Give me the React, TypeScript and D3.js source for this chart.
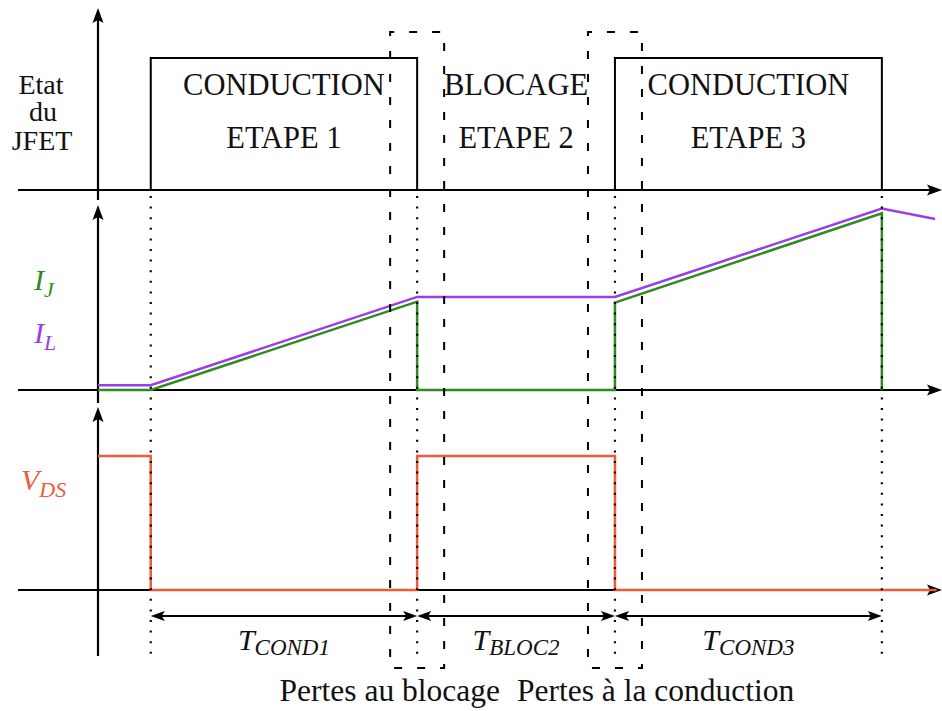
import React from "react";
import * as d3 from "d3";

// ---- data ----
const boundaries = [1, 6.05, 9.8, 14.86]; // switching instants
const phaseNames = ["CONDUCTION", "BLOCAGE", "CONDUCTION"];
const stepNames = ["ETAPE 1", "ETAPE 2", "ETAPE 3"];
const durationSubs = ["COND1", "BLOC2", "COND3"];
const lossLabels = ["Pertes au blocage", "Pertes à la conduction"];
const lossInstants = [6.05, 9.8];

const stateT = [1, 1, 6.05, 6.05, 9.8, 9.8, 14.86, 14.86];
const stateV = [0, 1, 1, 0, 0, 1, 1, 0];
const ijT = [0, 1, 6.05, 6.05, 9.8, 9.8, 14.86, 14.86];
const ijV = [0, 0, 0.93, 0, 0, 0.92, 1.86, 0];
const ilT = [0, 1, 6.05, 9.8, 14.86, 15.87];
const ilV = [0.05, 0.05, 0.98, 0.98, 1.91, 1.8];
const vdsT = [0, 1, 1, 6.05, 6.05, 9.8, 9.8, 15.9];
const vdsV = [1, 1, 0, 0, 1, 1, 0, 0];

const W = 942;
const H = 711;
const GREEN = "#2e8b22";
const PURPLE = "#9b3de8";
const ORANGE = "#ee5b35";
const FONT = "'Liberation Serif', 'Times New Roman', serif";

export default function App() {
  const x = d3.scaleLinear().domain([0, 16]).range([98, 942]);
  const yS = d3.scaleLinear().domain([0, 1]).range([190, 58]);
  const yC = d3.scaleLinear().domain([0, 2]).range([390, 200]);
  const yV = d3.scaleLinear().domain([0, 1]).range([590, 456]);

  const mk = (ts: number[], vs: number[], y: d3.ScaleLinear<number, number>) =>
    d3.line<number>().x((_, i) => x(ts[i])).y((v) => y(v))(vs) as string;

  const x0 = x(0);
  const axisStart = 18;
  const axisEnd = W;

  const hArrow = (y: number, key: string) => (
    <g key={key}>
      <line x1={axisStart} x2={axisEnd - 10} y1={y} y2={y} stroke="#000" strokeWidth={2.2} />
      <path d={`M${axisEnd},${y} L${axisEnd - 15},${y - 5.5} L${axisEnd - 12},${y} L${axisEnd - 15},${y + 5.5} Z`} fill="#000" />
    </g>
  );
  const vArrow = (yTop: number, yBot: number, key: string) => (
    <g key={key}>
      <line x1={x0} x2={x0} y1={yTop + 10} y2={yBot} stroke="#000" strokeWidth={2.2} />
      <path d={`M${x0},${yTop} L${x0 - 5.5},${yTop + 15} L${x0},${yTop + 12} L${x0 + 5.5},${yTop + 15} Z`} fill="#000" />
    </g>
  );
  const dimArrow = (xa: number, xb: number, y: number, key: string) => (
    <g key={key}>
      <line x1={xa + 8} x2={xb - 8} y1={y} y2={y} stroke="#000" strokeWidth={2} />
      <path d={`M${xa},${y} L${xa + 14},${y - 5} L${xa + 11},${y} L${xa + 14},${y + 5} Z`} fill="#000" />
      <path d={`M${xb},${y} L${xb - 14},${y - 5} L${xb - 11},${y} L${xb - 14},${y + 5} Z`} fill="#000" />
    </g>
  );

  const lossHalf = 27;

  return (
    <svg width={W} height={H} style={{ position: "absolute", left: 0, top: 0, background: "#fff" }} fontFamily={FONT}>
      {/* axes */}
      {hArrow(yS(0), "h1")}
      {hArrow(yC(0), "h2")}
      {hArrow(yV(0), "h3")}
      {vArrow(8, 200, "v1")}
      {vArrow(205, 403, "v2")}
      {vArrow(407, 656, "v3")}

      {/* JFET state */}
      <path d={mk(stateT, stateV, yS)} fill="none" stroke="#000" strokeWidth={2} />

      {/* currents */}
      <path d={mk(ilT, ilV, yC)} fill="none" stroke={PURPLE} strokeWidth={2.5} />
      <path d={mk(ijT, ijV, yC)} fill="none" stroke={GREEN} strokeWidth={2.5} />

      {/* VDS */}
      <path d={mk(vdsT, vdsV, yV)} fill="none" stroke={ORANGE} strokeWidth={2.5} />

      {/* dotted guides */}
      {boundaries.map((b, i) => (
        <line key={"d" + i} x1={x(b)} x2={x(b)} y1={196} y2={658} stroke="#000" strokeWidth={2.2}
          strokeDasharray="2,8.6" />
      ))}

      {/* loss boxes */}
      {lossInstants.map((t, i) => (
        <rect key={"l" + i} x={x(t) - lossHalf} y={32} width={lossHalf * 2} height={636} fill="none"
          stroke="#000" strokeWidth={2} strokeDasharray="8,15" strokeDashoffset={4} />
      ))}

      {/* phase labels */}
      {phaseNames.map((p, i) => {
        const cx = (x(boundaries[i]) + x(boundaries[i + 1])) / 2;
        return (
          <g key={"p" + i} fontSize={30.5} textAnchor="middle" fill="#111">
            <text x={cx} y={95}>{p}</text>
            <text x={cx} y={148}>{stepNames[i]}</text>
          </g>
        );
      })}

      {/* left labels */}
      <g fontSize={28} textAnchor="middle" fill="#111">
        <text x={41} y={94}>Etat</text>
        <text x={43} y={121}>du</text>
        <text x={42} y={150}>JFET</text>
      </g>
      <text x={34} y={290} fill={GREEN} fontStyle="italic" fontSize={30}>
        I<tspan fontSize={22} dy={7}>J</tspan>
      </text>
      <text x={34} y={343} fill={PURPLE} fontStyle="italic" fontSize={30}>
        I<tspan fontSize={22} dy={7}>L</tspan>
      </text>
      <text x={21} y={490} fill={ORANGE} fontStyle="italic" fontSize={30}>
        V<tspan fontSize={22} dy={7}>DS</tspan>
      </text>

      {/* durations */}
      {durationSubs.map((s, i) => {
        const xa = x(boundaries[i]);
        const xb = x(boundaries[i + 1]);
        return (
          <g key={"t" + i}>
            {dimArrow(xa, xb, 616, "a" + i)}
            <text x={(xa + xb) / 2} y={650} textAnchor="middle" fontStyle="italic" fontSize={30} fill="#111">
              T<tspan fontSize={23} dy={5}>{s}</tspan>
            </text>
          </g>
        );
      })}

      {/* loss labels */}
      <text x={500} y={701} textAnchor="end" fontSize={31.5} fill="#111">{lossLabels[0]}</text>
      <text x={517} y={701} textAnchor="start" fontSize={31.5} fill="#111">{lossLabels[1]}</text>
    </svg>
  );
}
